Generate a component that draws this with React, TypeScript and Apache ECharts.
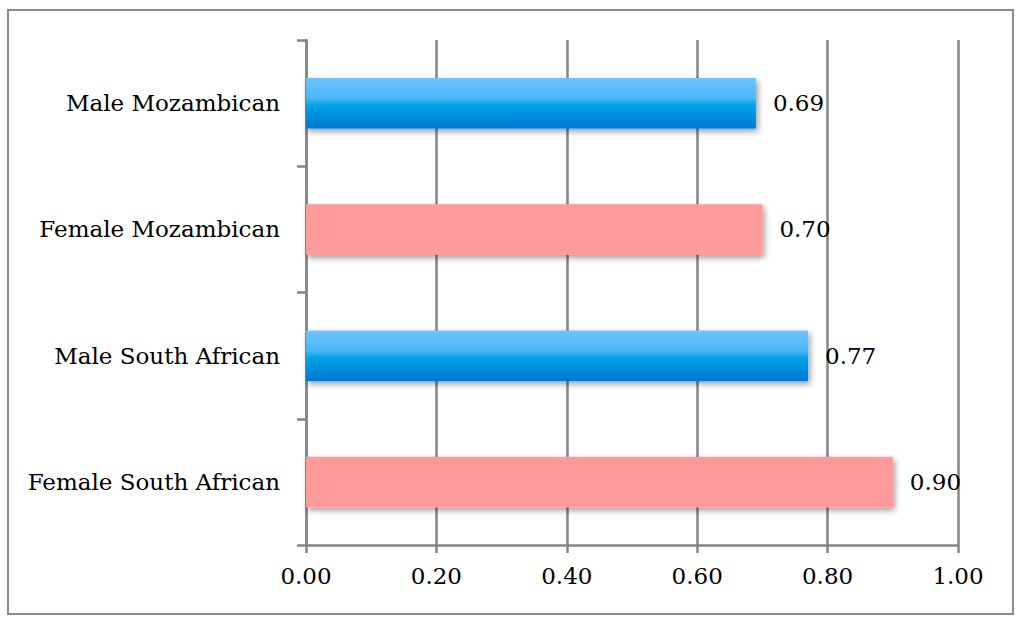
import React, { useEffect, useRef } from "react";
import * as echarts from "echarts";

const categories = ["Female South African", "Male South African", "Female Mozambican", "Male Mozambican"];
const values = [0.9, 0.77, 0.7, 0.69];
const genders = ["female", "male", "female", "male"];
const xTicks = [0, 0.2, 0.4, 0.6, 0.8, 1.0];

const FONT = "DejaVu Serif";

export default function App() {
  const ref = useRef<HTMLDivElement>(null);
  useEffect(() => {
    if (!ref.current) return;
    const chart = echarts.init(ref.current, null, { renderer: "svg" });
    const maleGrad = new echarts.graphic.LinearGradient(0, 0, 0, 1, [
      { offset: 0, color: "#6CC5FF" },
      { offset: 0.4, color: "#4BB7F7" },
      { offset: 0.55, color: "#00A2E8" },
      { offset: 1, color: "#0077CF" },
    ]);
    const data = values.map((v, i) => ({
      value: v,
      itemStyle: {
        color: genders[i] === "male" ? maleGrad : "#FF9A9A",
        shadowColor: "rgba(0,0,0,0.4)",
        shadowBlur: 6,
        shadowOffsetX: 2,
        shadowOffsetY: 3,
      },
    }));
    chart.setOption({
      animation: false,
      backgroundColor: "#ffffff",
      graphic: [
        {
          type: "rect",
          shape: { x: 8, y: 10, width: 1005, height: 604 },
          style: { fill: "none", stroke: "#8a8a8a", lineWidth: 2 },
          z: 100,
        },
      ],
      grid: { left: 306, right: 66, top: 40, bottom: 79, containLabel: false },
      xAxis: {
        type: "value",
        min: xTicks[0],
        max: xTicks[xTicks.length - 1],
        interval: 0.2,
        axisLine: { show: true, lineStyle: { color: "#858585", width: 2.5 } },
        axisTick: { show: true, length: 8, lineStyle: { color: "#858585", width: 2.5 } },
        splitLine: { show: true, lineStyle: { color: "#858585", width: 2.5 } },
        axisLabel: {
          formatter: (v: number) => v.toFixed(2),
          fontFamily: FONT,
          fontSize: 23,
          color: "#000",
          margin: 19,
        },
      },
      yAxis: {
        type: "category",
        data: categories,
        axisLine: { show: true, lineStyle: { color: "#858585", width: 2.5 } },
        axisTick: { show: true, length: 9, alignWithLabel: false, lineStyle: { color: "#858585", width: 2.5 } },
        splitLine: { show: false },
        axisLabel: {
          fontFamily: FONT,
          fontSize: 23,
          color: "#000",
          margin: 26,
        },
      },
      series: [
        {
          type: "bar",
          data,
          barCategoryGap: "60%",
          label: {
            show: true,
            position: "right",
            distance: 17,
            formatter: (p: any) => Number(p.value).toFixed(2),
            fontFamily: FONT,
            fontSize: 23,
            color: "#000",
          },
          z: 3,
        },
      ],
    });
    return () => chart.dispose();
  }, []);
  return (
    <div
      ref={ref}
      style={{ position: "fixed", left: 0, top: 0, width: 1024, height: 624 }}
    />
  );
}
